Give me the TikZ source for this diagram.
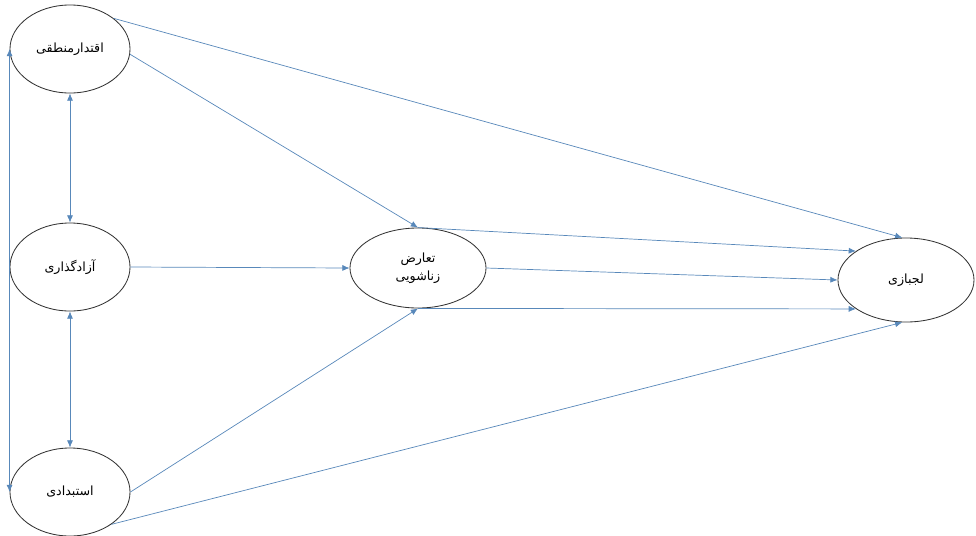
\documentclass[tikz,border=0pt]{standalone}
\usepackage{fontspec}
\newfontfamily\persianfont[Script=Arabic]{DejaVu Sans}
\TeXXeTstate=1
\usetikzlibrary{arrows.meta, shapes.geometric}
\definecolor{pathblue}{RGB}{88,136,186}

\begin{document}
\begin{tikzpicture}[
    x=0.025cm, y=-0.025cm,
    >={Latex[length=1.8mm,width=1.5mm]},
    font=\persianfont\small,
    var/.style={draw=black!80, line width=0.6pt, ellipse, inner sep=0pt,
                minimum width=3cm, minimum height=2.2cm},
    med/.style={var, minimum width=3.4cm, minimum height=2cm},
    path/.style={pathblue, line width=0.5pt},
]
\useasboundingbox (0,0) rectangle (976,535);

% === Independent variables (left column) ===
\node[var] (iqtedar) at (70, 49) {\beginR اقتدارمنطقی\endR};
\node[var] (azad) at (70, 267) {\beginR آزادگذاری\endR};
\node[var] (estebdad) at (70, 492) {\beginR استبدادی\endR};

% === Mediator and outcome ===
\node[med] (taaroz) at (418, 268) [align=center]
     {\beginR تعارض\endR\\[2pt]\beginR زناشویی\endR};
\node[med, minimum height=2.1cm] (lajbazi) at (906, 280) {\beginR لجبازی\endR};

% === Correlations between parenting styles ===
\draw[path, <->] (iqtedar.south) -- (azad.north);
\draw[path, <->] (azad.south) -- (estebdad.north);
\draw[path, <->] (iqtedar.west) -- (estebdad.west);

% === Paths to mediator ===
\draw[path, ->] (iqtedar.-5) -- (taaroz.north);
\draw[path, ->] (azad.east) -- (taaroz.west);
\draw[path, ->] (estebdad.east) -- (taaroz.south);

% === Paths to outcome ===
\draw[path, ->] (iqtedar.35) -- (lajbazi.95);
\draw[path, ->] (estebdad.-38) -- (lajbazi.265);
\draw[path, ->] (taaroz.north) -- (lajbazi.150);
\draw[path, ->] (taaroz.east) -- (lajbazi.west);
\draw[path, ->] (taaroz.south) -- (lajbazi.210);

\end{tikzpicture}
\end{document}
